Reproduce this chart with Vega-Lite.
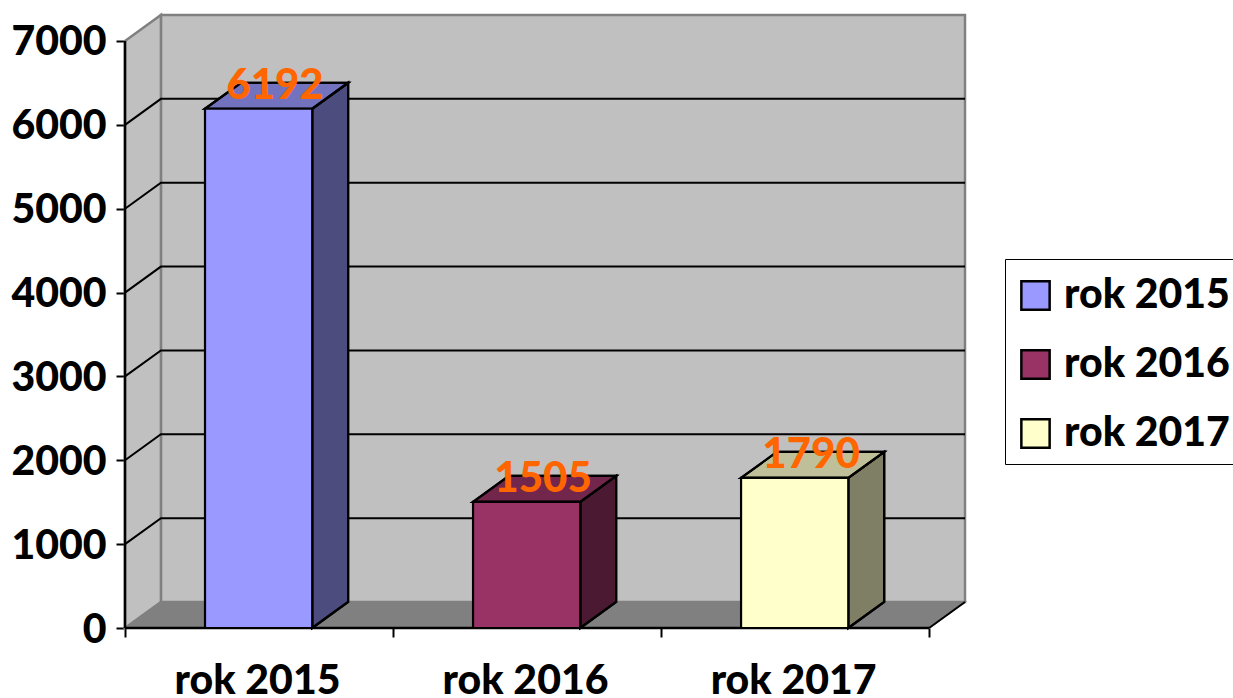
{
"$schema":"https://vega.github.io/schema/vega-lite/v6.json",
"width":840,"height":613,"autosize":"none",
"padding":{"left":125,"top":15,"right":268,"bottom":70},
"background":"white",
"config":{"view":{"stroke":null}},
"datasets":{
"wall":[{"x":0.134,"y0":310,"y1":7310},{"x":3.134,"y0":310,"y1":7310}],
"side":[{"x":0,"y0":0,"y1":7000},{"x":0.134,"y0":310,"y1":7310}],
"floor":[{"x":0,"y0":0,"y1":0},{"x":0.134,"y0":0,"y1":310},{"x":3,"y0":0,"y1":310},{"x":3.134,"y0":310,"y1":310}],
"grid":[
{"g":1000,"x":0,"y":1000},{"g":1000,"x":0.134,"y":1310},{"g":1000,"x":3.134,"y":1310},
{"g":2000,"x":0,"y":2000},{"g":2000,"x":0.134,"y":2310},{"g":2000,"x":3.134,"y":2310},
{"g":3000,"x":0,"y":3000},{"g":3000,"x":0.134,"y":3310},{"g":3000,"x":3.134,"y":3310},
{"g":4000,"x":0,"y":4000},{"g":4000,"x":0.134,"y":4310},{"g":4000,"x":3.134,"y":4310},
{"g":5000,"x":0,"y":5000},{"g":5000,"x":0.134,"y":5310},{"g":5000,"x":3.134,"y":5310},
{"g":6000,"x":0,"y":6000},{"g":6000,"x":0.134,"y":6310},{"g":6000,"x":3.134,"y":6310}],
"edges":[{"g":"y","x":0,"y":0},{"g":"y","x":0,"y":7000},{"g":"x","x":0,"y":0},{"g":"x","x":3,"y":0}],
"rim":[{"g":"a","x":3,"y":0},{"g":"a","x":3.134,"y":310}],
"bars":[
{"series":"rok 2015","a":0.2985,"b":0.6985,"c":0.5,"base":0,"value":6192},
{"series":"rok 2016","a":1.2985,"b":1.6985,"c":1.5,"base":0,"value":1505},
{"series":"rok 2017","a":2.2985,"b":2.6985,"c":2.5,"base":0,"value":1790}],
"sides":[
{"series":"rok 2015","x":0.6985,"y0":0,"y1":6192},{"series":"rok 2015","x":0.8325,"y0":310,"y1":6502},
{"series":"rok 2016","x":1.6985,"y0":0,"y1":1505},{"series":"rok 2016","x":1.8325,"y0":310,"y1":1815},
{"series":"rok 2017","x":2.6985,"y0":0,"y1":1790},{"series":"rok 2017","x":2.8325,"y0":310,"y1":2100}],
"tops":[
{"series":"rok 2015","x":0.2985,"y0":6192,"y1":6192},{"series":"rok 2015","x":0.4325,"y0":6192,"y1":6502},{"series":"rok 2015","x":0.6985,"y0":6192,"y1":6502},{"series":"rok 2015","x":0.8325,"y0":6502,"y1":6502},
{"series":"rok 2016","x":1.2985,"y0":1505,"y1":1505},{"series":"rok 2016","x":1.4325,"y0":1505,"y1":1815},{"series":"rok 2016","x":1.6985,"y0":1505,"y1":1815},{"series":"rok 2016","x":1.8325,"y0":1815,"y1":1815},
{"series":"rok 2017","x":2.2985,"y0":1790,"y1":1790},{"series":"rok 2017","x":2.4325,"y0":1790,"y1":2100},{"series":"rok 2017","x":2.6985,"y0":1790,"y1":2100},{"series":"rok 2017","x":2.8325,"y0":2100,"y1":2100}]
},
"layer":[
{"data":{"name":"wall"},"mark":{"type":"area","fill":"#C0C0C0","stroke":"#808080","strokeWidth":2.5},
 "encoding":{
  "x":{"field":"x","type":"quantitative","scale":{"domain":[0,3.134],"nice":false,"zero":false},
   "axis":{"title":null,"values":[0,0.5,1,1.5,2,2.5,3],"domain":false,"grid":false,"tickColor":"#000","tickWidth":2,"tickSize":9,"tickOpacity":{"expr":"datum.value % 1 === 0 ? 1 : 0"},
    "labelExpr":"datum.value === 0.5 ? 'rok 2015' : datum.value === 1.5 ? 'rok 2016' : datum.value === 2.5 ? 'rok 2017' : ''",
    "labelFont":"Lato","labelFontWeight":900,"labelFontSize":41,"labelColor":"#000","labelPadding":24,"labelOffset":-2,"labelOverlap":false,"labelBound":false,"labelFlush":false}},
  "y":{"field":"y1","type":"quantitative","scale":{"domain":[0,7310],"nice":false,"zero":false},
   "axis":{"title":null,"values":[0,1000,2000,3000,4000,5000,6000,7000],"domain":false,"grid":false,"format":"d","tickColor":"#000","tickWidth":2,"tickSize":9,
    "labelFont":"Lato","labelFontWeight":900,"labelFontSize":41,"labelColor":"#000","labelPadding":10,"labelOffset":2,"labelOverlap":false,"labelBound":false,"labelFlush":false}},
  "y2":{"field":"y0"}}},
{"data":{"name":"side"},"mark":{"type":"area","fill":"#C0C0C0","stroke":"#808080","strokeWidth":2.5},
 "encoding":{"x":{"field":"x","type":"quantitative"},"y":{"field":"y1","type":"quantitative"},"y2":{"field":"y0"}}},
{"data":{"name":"floor"},"mark":{"type":"area","fill":"#808080","stroke":"#808080","strokeWidth":1.5},
 "encoding":{"x":{"field":"x","type":"quantitative"},"y":{"field":"y1","type":"quantitative"},"y2":{"field":"y0"}}},
{"data":{"name":"grid"},"mark":{"type":"line","color":"#000","strokeWidth":2},
 "encoding":{"x":{"field":"x","type":"quantitative"},"y":{"field":"y","type":"quantitative"},"detail":{"field":"g","type":"nominal"}}},
{"data":{"name":"rim"},"mark":{"type":"line","color":"#000","strokeWidth":2},
 "encoding":{"x":{"field":"x","type":"quantitative"},"y":{"field":"y","type":"quantitative"},"detail":{"field":"g","type":"nominal"}}},
{"data":{"name":"edges"},"mark":{"type":"line","color":"#000","strokeWidth":2.5},
 "encoding":{"x":{"field":"x","type":"quantitative"},"y":{"field":"y","type":"quantitative"},"detail":{"field":"g","type":"nominal"}}},
{"data":{"name":"sides"},"mark":{"type":"area","stroke":"#000","strokeWidth":2.2},
 "encoding":{"x":{"field":"x","type":"quantitative"},"y":{"field":"y1","type":"quantitative"},"y2":{"field":"y0"},
  "color":{"field":"series","type":"nominal"}}},
{"data":{"name":"sides"},"mark":{"type":"area","fill":"#000","fillOpacity":0.5,"stroke":"#000","strokeWidth":2.2},
 "encoding":{"x":{"field":"x","type":"quantitative"},"y":{"field":"y1","type":"quantitative"},"y2":{"field":"y0"},"detail":{"field":"series","type":"nominal"}}},
{"data":{"name":"tops"},"mark":{"type":"area","stroke":"#000","strokeWidth":2.2},
 "encoding":{"x":{"field":"x","type":"quantitative"},"y":{"field":"y1","type":"quantitative"},"y2":{"field":"y0"},
  "color":{"field":"series","type":"nominal"}}},
{"data":{"name":"tops"},"mark":{"type":"area","fill":"#000","fillOpacity":0.25,"stroke":"#000","strokeWidth":2.2},
 "encoding":{"x":{"field":"x","type":"quantitative"},"y":{"field":"y1","type":"quantitative"},"y2":{"field":"y0"},"detail":{"field":"series","type":"nominal"}}},
{"data":{"name":"bars"},"mark":{"type":"rect","stroke":"#000","strokeWidth":2.2},
 "encoding":{"x":{"field":"a","type":"quantitative"},"x2":{"field":"b"},"y":{"field":"value","type":"quantitative"},"y2":{"field":"base"},
  "color":{"field":"series","type":"nominal","scale":{"domain":["rok 2015","rok 2016","rok 2017"],"range":["#9999FF","#993366","#FFFFCC"]},
   "legend":{"title":" ","titleFontSize":6,"titlePadding":0,"orient":"none","legendX":880,"legendY":244,"symbolType":"square","symbolSize":800,"symbolStrokeColor":"#000","symbolStrokeWidth":2.5,"symbolOpacity":1,"fillColor":"#fff","strokeColor":"#000","padding":10,"labelFont":"Lato","labelFontWeight":900,"labelFontSize":41,"labelColor":"#000","labelOffset":8,"rowPadding":27,"labelLimit":300,"offset":0}}}},
{"data":{"name":"bars"},"mark":{"type":"text","font":"Lato","fontWeight":900,"fontSize":42,"color":"#FF6600","dx":16,"dy":-23,"baseline":"middle","align":"center"},
 "encoding":{"x":{"field":"c","type":"quantitative"},"y":{"field":"value","type":"quantitative"},"text":{"field":"value","type":"quantitative","format":"d"}}}
]
}
